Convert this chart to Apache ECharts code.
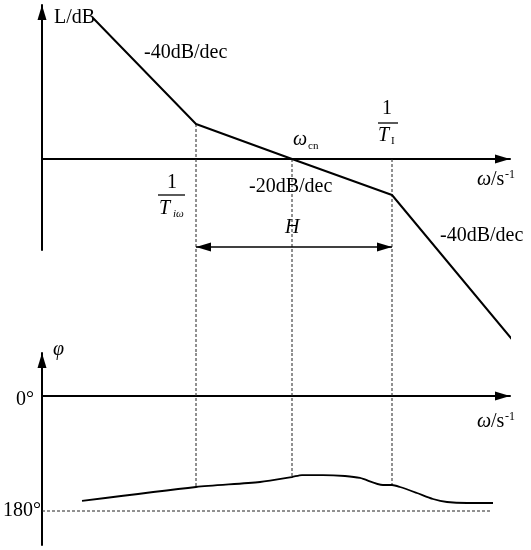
<!DOCTYPE html>
<html>
<head>
<meta charset="utf-8">
<script src="https://cdn.jsdelivr.net/npm/echarts@6/dist/echarts.min.js"></script>
<style>
  html, body { margin: 0; padding: 0; background: #fff; }
  #chart { width: 531px; height: 550px; }
</style>
</head>
<body>
<div id="chart"></div>
<script>
// 对数幅频特性（渐近线）：横坐标为 lg ω（相对单位），纵坐标 L/dB
const magX = [0.51, 1.54, 2.50, 3.50, 4.73]
const magDb = [56.4, 14, 0, -14.4, -73.6]

// 相频特性 φ（度）
const phaseX = [0.40, 1.54, 2.18, 2.50, 2.60, 2.81, 3.03, 3.18, 3.41, 3.50, 3.58, 3.75, 3.91, 4.05, 4.25, 4.51]
const phaseDeg = [-164.3, -142.4, -134.6, -126.8, -123.7, -123.7, -125.2, -128.3, -139.3, -139.3, -142.4, -151.8, -161.2, -165.9, -167.5, -167.5]

// 三条竖直虚线：1/Tiω, ωcn, 1/TI
const markX = [1.54, 2.50, 3.50]
const markDbTop = [14, 0, 0]
const markPhase = [-142.4, -126.8, -139.3]

// H 区间箭头
const hX = [1.54, 3.50]
const hDb = -35.2

// -180° 参考线
const refDeg = -180
const refX = [0, 4.48]

const FONT = '"Liberation Serif", "DejaVu Serif", serif'
const junctionDb = -77.6 // 上图虚线向下延伸到下图顶部

const chart = echarts.init(document.getElementById("chart"), null, { renderer: "canvas" })

const axisBase = {
  type: "value",
  axisTick: { show: false },
  axisLabel: { show: false },
  splitLine: { show: false }
}
const arrowLine = {
  show: true,
  onZero: true,
  symbol: ["none", "triangle"],
  symbolSize: [9, 15],
  symbolOffset: [0, -7.5],
  lineStyle: { color: "#000", width: 2 }
}

const dashStyle = { color: "#222", width: 1, type: [3, 2] }

let seriesData = []

// 幅频曲线
seriesData.push({
  type: "line",
  xAxisIndex: 0,
  yAxisIndex: 0,
  data: magX.map((x, i) => [x, magDb[i]]),
  symbol: "none",
  clip: false,
  lineStyle: { color: "#000", width: 2 },
  z: 5,
  markLine: {
    silent: true,
    symbol: ["triangle", "triangle"],
    symbolSize: [9, 15],
    symbolOffset: [[0, 7.5], [0, 7.5]],
    label: { show: false },
    lineStyle: { color: "#000", width: 1.5, type: "solid" },
    data: [[{ coord: [hX[0], hDb] }, { coord: [hX[1], hDb] }]]
  }
})

// 相频曲线
seriesData.push({
  type: "line",
  xAxisIndex: 1,
  yAxisIndex: 1,
  data: phaseX.map((x, i) => [x, phaseDeg[i]]),
  symbol: "none",
  smooth: 0.25,
  lineStyle: { color: "#000", width: 1.8 },
  z: 5
})

// -180° 虚线
seriesData.push({
  type: "line",
  xAxisIndex: 1,
  yAxisIndex: 1,
  data: refX.map((x) => [x, refDeg]),
  symbol: "none",
  lineStyle: dashStyle
})

// 竖直虚线（上下两段）
markX.forEach((x, i) => {
  seriesData.push({
    type: "line",
    xAxisIndex: 0,
    yAxisIndex: 0,
    data: [[x, markDbTop[i]], [x, junctionDb]],
    symbol: "none",
    clip: false,
    lineStyle: dashStyle
  })
  seriesData.push({
    type: "line",
    xAxisIndex: 1,
    yAxisIndex: 1,
    data: [[x, 67.3], [x, markPhase[i]]],
    symbol: "none",
    lineStyle: dashStyle
  })
})

const txt = (text, x, y, opt = {}) => ({
  type: "text",
  x: x,
  y: y,
  z: 10,
  style: {
    text: text,
    fill: "#000",
    fontFamily: FONT,
    fontSize: opt.size || 20,
    fontStyle: opt.italic ? "italic" : "normal",
    align: opt.align || "left",
    verticalAlign: "middle"
  }
})
const bar = (x1, x2, y) => ({
  type: "line",
  z: 10,
  shape: { x1: x1, y1: y, x2: x2, y2: y },
  style: { stroke: "#000", lineWidth: 1.3 }
})

let option = {
  backgroundColor: "#fff",
  animation: false,
  grid: [
    { left: 42, top: 5, width: 468, height: 245 },
    { left: 42, top: 353, width: 468, height: 192 }
  ],
  xAxis: [
    { ...axisBase, gridIndex: 0, min: 0, max: 4.68, axisLine: arrowLine },
    { ...axisBase, gridIndex: 1, min: 0, max: 4.68, axisLine: arrowLine }
  ],
  yAxis: [
    { ...axisBase, gridIndex: 0, min: -36.4, max: 61.6, axisLine: arrowLine },
    { ...axisBase, gridIndex: 1, min: -233.2, max: 67.3, axisLine: arrowLine }
  ],
  series: seriesData,
  graphic: [
    txt("L/dB", 54, 18),
    txt("-40dB/dec", 144, 53),
    txt("-20dB/dec", 249, 187),
    txt("-40dB/dec", 440, 236),
    // ω/s^-1 (上)
    txt("ω", 477, 180, { italic: true }),
    txt("/s", 491, 180),
    txt("-1", 505, 175, { size: 12 }),
    // ωcn
    txt("ω", 293, 140, { italic: true }),
    txt("cn", 308, 146, { size: 11 }),
    // 1/Tiω
    txt("1", 172, 183, { align: "center" }),
    bar(158, 185, 195),
    txt("T", 159, 209, { italic: true }),
    txt("iω", 173, 214, { size: 11, italic: true }),
    // 1/TI
    txt("1", 387, 109, { align: "center" }),
    bar(378, 398, 123),
    txt("T", 378, 136, { italic: true }),
    txt("I", 391, 141, { size: 11 }),
    // H
    txt("H", 285, 228, { italic: true }),
    // 相频
    txt("φ", 53, 350, { italic: true }),
    txt("0°", 34, 400, { align: "right" }),
    txt("180°", 41, 511, { align: "right" }),
    txt("ω", 477, 422, { italic: true }),
    txt("/s", 491, 422),
    txt("-1", 505, 417, { size: 12 })
  ]
}

chart.setOption(option)
</script>
</body>
</html>
